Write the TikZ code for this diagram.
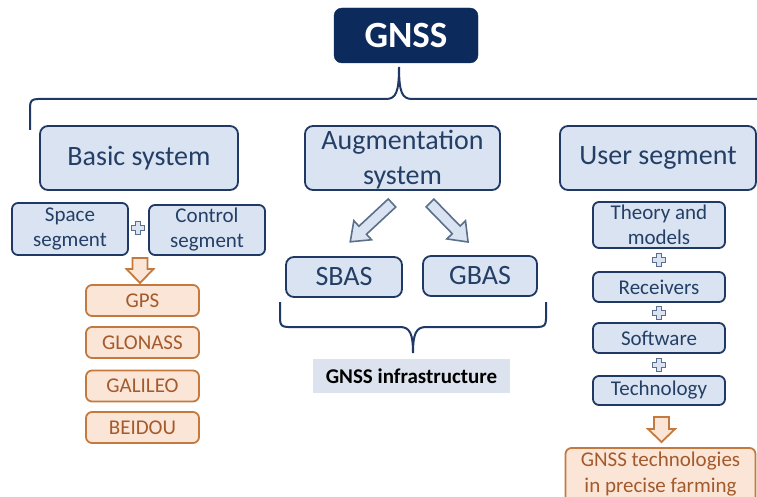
\documentclass[tikz,border=0pt]{standalone}
\usepackage{fontspec}
\setmainfont{Carlito}
\definecolor{navy}{HTML}{1F3864}
\definecolor{darknavy}{HTML}{0C2A5C}
\definecolor{lblue}{HTML}{DAE3F1}
\definecolor{btext}{HTML}{243F66}
\definecolor{ofill}{HTML}{FBE5D6}
\definecolor{oborder}{HTML}{C47A3E}
\definecolor{otext}{HTML}{A35A2C}
\definecolor{agray}{HTML}{5B6F8C}
\definecolor{infra}{HTML}{DCE3EE}
\newcommand\mkplus[2]{%
  \draw[plusst,shift={(#1,#2)}] (-2.7,-6.5) -- (2.7,-6.5) -- (2.7,-2.7) -- (6.5,-2.7) -- (6.5,2.7) -- (2.7,2.7) -- (2.7,6.5) -- (-2.7,6.5) -- (-2.7,2.7) -- (-6.5,2.7) -- (-6.5,-2.7) -- (-2.7,-2.7) -- cycle;}
% x, y, angle, length, shaft half, head half, head length, style
\newcommand\mkbarrow[8]{%
  \begin{scope}[shift={(#1,#2)},rotate=#3]
  \draw[#8] (0,-#5) -- ({#4-#7},-#5) -- ({#4-#7},-#6) -- (#4,0) -- ({#4-#7},#6) -- ({#4-#7},#5) -- (0,#5) -- cycle;
  \end{scope}}
\tikzset{
  bbox/.style={draw=navy, line width=1.8pt, fill=lblue, rounded corners=8pt, text=btext, align=center, inner sep=0pt},
  big/.style={bbox, font=\fontsize{28}{33}\selectfont},
  small/.style={bbox, rounded corners=6pt, font=\fontsize{21}{25}\selectfont},
  obox/.style={draw=oborder, line width=1.8pt, fill=ofill, rounded corners=6pt, text=otext, align=center, inner sep=0pt, font=\fontsize{21}{25}\selectfont},
  plusst/.style={draw=agray, fill=lblue, line width=1.2pt},
  aarrow/.style={draw=agray, fill=lblue, line width=1.6pt, line join=miter},
  oarrow/.style={draw=oborder, fill=ofill, line width=1.8pt, line join=miter},
  brace/.style={draw=navy, line width=2pt},
}
\begin{document}
\begin{tikzpicture}[x=1pt,y=-1pt]
\useasboundingbox (0,0) rectangle (757,497);
% title
\node[draw=darknavy, fill=darknavy, rounded corners=8pt, text=white, font=\fontsize{37}{40}\selectfont\bfseries, minimum width=144pt, minimum height=55pt, inner sep=0pt] (gnss) at (406,35.5) {GNSS};
% top brace
\draw[brace] (30,130) -- (30,107) .. controls (30,101) and (32,99) .. (38,99) -- (386,99) .. controls (396,99) and (399,92) .. (399,67) .. controls (399,92) and (402,99) .. (412,99) -- (757,99);
% level 1
\node[big, minimum width=198pt, minimum height=64pt] (basic) at (139,158) {Basic system};
\node[big, minimum width=195pt, minimum height=64pt] (aug) at (402.5,158) {};
\node[text=btext, align=center, inner sep=0pt, font=\fontsize{28}{35}\selectfont] (augt) at (402.5,160) {Augmentation\\system};
\node[big, minimum width=196pt, minimum height=64pt] (user) at (658,158) {User segment};
% basic column
\node[small, minimum width=116pt, minimum height=52pt] (space) at (70,229) {Space\\segment};
\node[small, minimum width=116pt, minimum height=50pt] (control) at (207,230) {Control\\segment};
\mkplus{138}{228}
\mkbarrow{140}{258}{-90}{25}{7.5}{13.5}{14}{oarrow}
\node[obox, minimum width=113pt, minimum height=31pt] (gps) at (142.5,300.5) {GPS};
\node[obox, minimum width=113pt, minimum height=31pt] (glonass) at (142.5,342.5) {GLONASS};
\node[obox, minimum width=113pt, minimum height=31pt] (galileo) at (142.5,386) {GALILEO};
\node[obox, minimum width=113pt, minimum height=31pt] (beidou) at (142.5,427.5) {BEIDOU};
% augmentation column
\mkbarrow{392}{203}{222.9}{57}{5.5}{13}{17}{aarrow}
\mkbarrow{430}{203}{-45.7}{54.5}{5.5}{13}{17}{aarrow}
\node[big, minimum width=116pt, minimum height=40pt] (sbas) at (344,277) {SBAS};
\node[big, minimum width=114pt, minimum height=40pt] (gbas) at (480,276) {GBAS};
\draw[brace] (280,302) -- (280,319) .. controls (280,325) and (282,327) .. (288,327) -- (400,327) .. controls (410,327) and (413,334) .. (413,353) .. controls (413,334) and (416,327) .. (426,327) -- (538,327) .. controls (544,327) and (546,325) .. (546,319) -- (546,302);
\node[fill=infra, minimum width=197pt, minimum height=34pt, inner sep=0pt, font=\fontsize{21}{25}\selectfont\bfseries] (infra) at (411.5,376) {GNSS infrastructure};
% user column
\node[small, minimum width=132pt, minimum height=46pt] (theory) at (659,225) {Theory and\\models};
\mkplus{659}{260}
\node[small, minimum width=132pt, minimum height=30pt] (receivers) at (659,287) {Receivers};
\mkplus{659}{313}
\node[small, minimum width=132pt, minimum height=30pt] (software) at (659,338) {Software};
\mkplus{659}{365}
\node[small, minimum width=132pt, minimum height=29pt] (technology) at (659,390.5) {Technology};
\mkbarrow{661.5}{417}{-90}{25}{7.5}{13.5}{13}{oarrow}
\node[obox, minimum width=190pt, minimum height=58pt] (farming) at (660.5,477) {};
\node[text=otext, align=center, inner sep=0pt, font=\fontsize{21}{26}\selectfont] (farmingt) at (660.5,474) {GNSS technologies\\in precise farming};
\end{tikzpicture}
\end{document}
